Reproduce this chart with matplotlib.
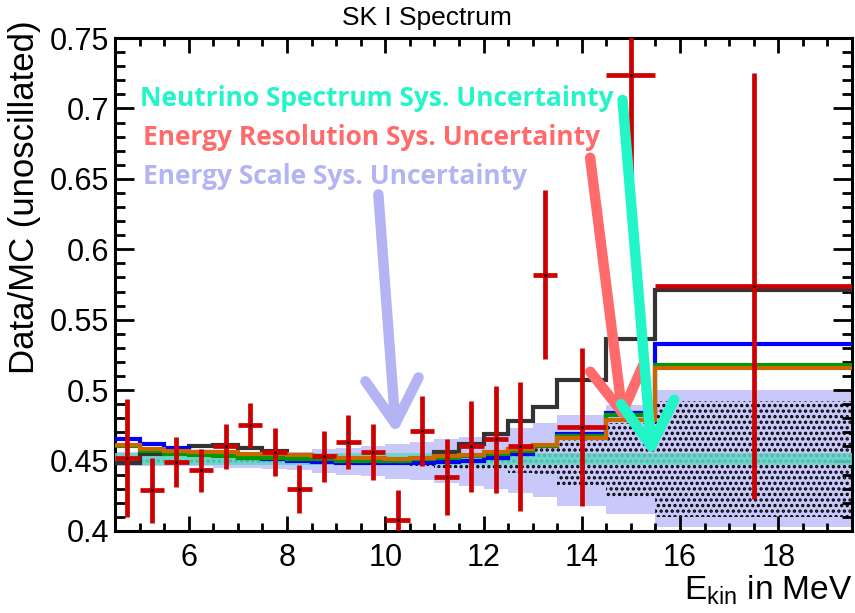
import matplotlib.pyplot as plt
import numpy as np
from matplotlib.ticker import MultipleLocator, FuncFormatter

plt.rcParams['font.family'] = ['Liberation Sans', 'DejaVu Sans']
plt.rcParams['hatch.linewidth'] = 1.6

# bin edges in MeV (0.5 MeV bins up to 13.5, then wider ones)
edges = [4.5, 5.0, 5.5, 6.0, 6.5, 7.0, 7.5, 8.0, 8.5, 9.0, 9.5, 10.0,
         10.5, 11.0, 11.5, 12.0, 12.5, 13.0, 13.5, 14.5, 15.5, 19.5]

# measured Data/MC ratio
data_x = [4.75, 5.25, 5.75, 6.25, 6.75, 7.25, 7.75, 8.25, 8.75, 9.25, 9.75,
          10.25, 10.75, 11.25, 11.75, 12.25, 12.75, 13.25, 14.0, 15.0, 17.5]
data_xerr = [0.25] * 18 + [0.5, 0.5, 2.0]
data_y = [0.452, 0.429, 0.449, 0.443, 0.460, 0.475, 0.456, 0.430, 0.453, 0.463, 0.456,
          0.408, 0.471, 0.438, 0.460, 0.465, 0.460, 0.582, 0.474, 0.724, 0.574]
data_yerr = [0.042, 0.023, 0.018, 0.015, 0.016, 0.016, 0.017, 0.017, 0.018, 0.019, 0.020,
             0.021, 0.025, 0.027, 0.032, 0.038, 0.046, 0.060, 0.056, 0.080, 0.151]

# predicted ratios (one value per bin)
pred_black = [0.448, 0.455, 0.458, 0.460, 0.461, 0.459, 0.457, 0.454, 0.452, 0.451, 0.450,
              0.449, 0.449, 0.456, 0.462, 0.469, 0.478, 0.488, 0.507, 0.536, 0.571]
pred_blue = [0.465, 0.462, 0.459, 0.456, 0.454, 0.452, 0.451, 0.450, 0.449, 0.448, 0.448,
             0.448, 0.448, 0.449, 0.450, 0.452, 0.455, 0.460, 0.469, 0.484, 0.533]
pred_green = [0.460, 0.457, 0.455, 0.454, 0.453, 0.452, 0.452, 0.451, 0.451, 0.450, 0.450,
              0.450, 0.451, 0.452, 0.453, 0.455, 0.457, 0.460, 0.4675, 0.482, 0.518]
pred_orange = [0.461, 0.458, 0.457, 0.456, 0.456, 0.455, 0.455, 0.454, 0.453, 0.452, 0.452,
               0.451, 0.452, 0.453, 0.454, 0.456, 0.458, 0.461, 0.466, 0.479, 0.516]

# systematic bands
scale_lo = [0.446, 0.446, 0.446, 0.446, 0.445, 0.445, 0.444, 0.443, 0.441, 0.440, 0.439,
            0.437, 0.436, 0.434, 0.432, 0.430, 0.427, 0.424, 0.418, 0.412, 0.403]
scale_hi = [0.456, 0.455, 0.455, 0.455, 0.455, 0.455, 0.456, 0.456, 0.458, 0.459, 0.460,
            0.462, 0.463, 0.465, 0.467, 0.470, 0.473, 0.477, 0.482, 0.4895, 0.500]
res_lo = [0.448, 0.448, 0.448, 0.448, 0.448, 0.448, 0.448, 0.448, 0.447, 0.447, 0.447,
          0.447, 0.446, 0.445, 0.444, 0.443, 0.441, 0.439, 0.433, 0.424, 0.410]
res_hi = [0.451, 0.451, 0.451, 0.451, 0.451, 0.451, 0.451, 0.451, 0.452, 0.452, 0.452,
          0.452, 0.453, 0.454, 0.455, 0.456, 0.456, 0.459, 0.465, 0.477, 0.492]
spec_lo = [0.447] * 21
spec_hi = [0.4555] * 21

fig = plt.figure(figsize=(8.55, 6.13), dpi=100)
ax = fig.add_axes([0.1345, 0.1338, 0.862, 0.8042])


def band(lo, hi, **kw):
    ax.fill_between(edges, lo + [lo[-1]], hi + [hi[-1]], step='post', linewidth=0, **kw)


band(scale_lo, scale_hi, facecolor='#c8c8fa', zorder=1)
band(res_lo, res_hi, facecolor='none', edgecolor='black', hatch='...', zorder=2)
band(spec_lo, spec_hi, facecolor='#5fd8c6', alpha=0.85, zorder=3)

lw = 3.0
ax.stairs(pred_black, edges, baseline=None, color='#333333', lw=lw, zorder=4)
ax.stairs(pred_blue, edges, baseline=None, color='#0000ff', lw=lw, zorder=5)
ax.stairs(pred_green, edges, baseline=None, color='#009900', lw=lw, zorder=6)
ax.stairs(pred_orange, edges, baseline=None, color='#cc6600', lw=lw, zorder=7)

ax.errorbar(data_x, data_y, xerr=data_xerr, yerr=data_yerr, fmt='none',
            ecolor='#cc0000', elinewidth=3.4, capsize=0, zorder=8)
ax.plot(data_x, data_y, 'k.', ms=2, zorder=9)

# labels for the systematic bands, with arrows
txt = dict(fontsize=19, fontweight='bold', family=['Open Sans', 'DejaVu Sans'],
           va='center', ha='left', zorder=10)
ax.text(5.0, 0.707, 'Neutrino Spectrum Sys. Uncertainty', color='#22f5c8', **txt)
ax.text(5.08, 0.6795, 'Energy Resolution Sys. Uncertainty', color='#ff6b6b', **txt)
ax.text(5.08, 0.652, 'Energy Scale Sys. Uncertainty', color='#b4b4f5', **txt)

arrows = [((9.86, 0.639), (10.22, 0.469), '#b4b4f5'),
          ((14.17, 0.665), (14.85, 0.477), '#ff6b6b'),
          ((14.83, 0.706), (15.43, 0.453), '#22f5c8')]
for (x0, y0), (x1, y1), c in arrows:
    ax.annotate('', xy=(x1, y1), xytext=(x0, y0), zorder=11,
                arrowprops=dict(arrowstyle='->,head_length=0.8,head_width=0.48',
                                color=c, lw=7.5, mutation_scale=40,
                                capstyle='round', joinstyle='round',
                                shrinkA=0, shrinkB=0))

ax.set_xlim(4.5, 19.5)
ax.set_ylim(0.4, 0.75)
ax.xaxis.set_major_locator(MultipleLocator(2))
ax.xaxis.set_minor_locator(MultipleLocator(0.5))
ax.yaxis.set_major_locator(MultipleLocator(0.05))
ax.yaxis.set_minor_locator(MultipleLocator(0.01))
ax.yaxis.set_major_formatter(FuncFormatter(lambda v, p: '%g' % round(v, 2)))
ax.xaxis.set_major_formatter(FuncFormatter(lambda v, p: '%g' % v))

ax.tick_params(which='both', direction='in', top=True, right=True, width=2,
               labelsize=22)
ax.tick_params(axis='x', which='major', length=11, pad=9)
ax.tick_params(axis='x', which='minor', length=6)
ax.tick_params(axis='y', which='major', length=14, pad=4)
ax.tick_params(axis='y', which='minor', length=7)
for s in ax.spines.values():
    s.set_linewidth(2.2)

fig.text(427 / 855, 1 - 18 / 613, 'SK I Spectrum', ha='center', va='center', fontsize=19)
fig.text(25 / 855, 1 - 197 / 613, 'Data/MC (unoscillated)', rotation=90,
         ha='center', va='center', fontsize=25)
fig.text(852 / 855, 1 - 590 / 613, r'E$_{\mathregular{kin}}$ in MeV', ha='right',
         va='center', fontsize=24)

fig.savefig('out.png', dpi=100)
